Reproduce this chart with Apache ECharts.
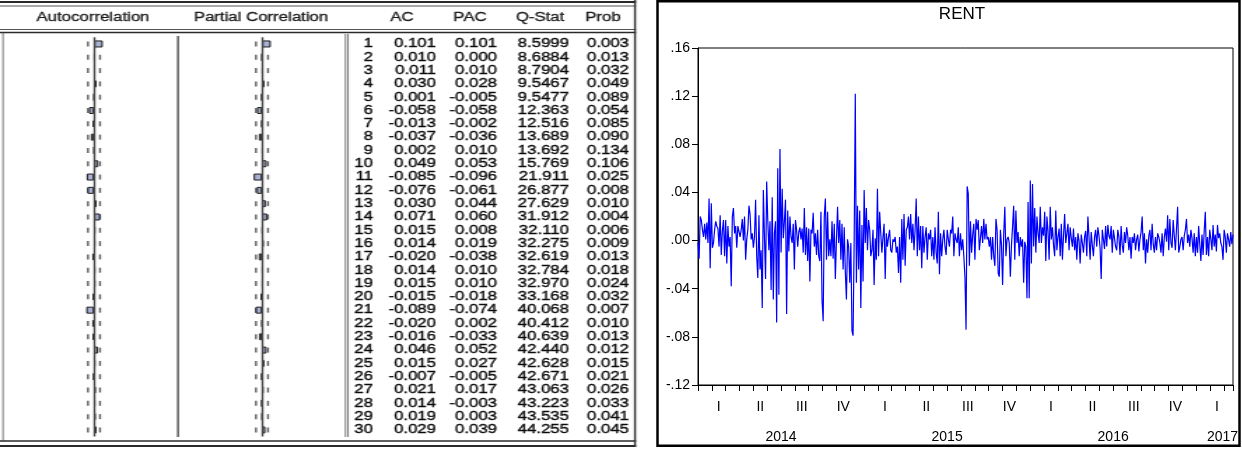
<!DOCTYPE html>
<html>
<head>
<meta charset="utf-8">
<script src="https://cdn.jsdelivr.net/npm/echarts@6/dist/echarts.min.js"></script>
<style>
  html, body { margin: 0; padding: 0; background: #fff; }
  #wrap { position: relative; width: 1242px; height: 450px; overflow: hidden; background: #fff; }
  /* the correlogram table is drawn narrow and widened, like the EViews output */
  #corr { position: absolute; left: 0; top: 0; width: 461px; height: 450px;
          transform: scaleX(1.4); transform-origin: 0 0; }
  #rent { position: absolute; left: 645px; top: 0; width: 597px; height: 450px; }
</style>
</head>
<body>
<div id="wrap">
  <div id="corr"></div>
  <div id="rent"></div>
</div>
<script>
// ---------- Correlogram of RENT ----------
const lags = ['1','2','3','4','5','6','7','8','9','10','11','12','13','14','15',
              '16','17','18','19','20','21','22','23','24','25','26','27','28','29','30'];
const ac = [0.101, 0.010, 0.011, 0.030, 0.001, -0.058, -0.013, -0.037, 0.002, 0.049,
            -0.085, -0.076, 0.030, 0.071, 0.015, 0.014, -0.020, 0.014, 0.015, -0.015,
            -0.089, -0.020, -0.016, 0.046, 0.015, -0.007, 0.021, 0.014, 0.019, 0.029];
const pac = [0.101, 0.000, 0.010, 0.028, -0.005, -0.058, -0.002, -0.036, 0.010, 0.053,
             -0.096, -0.061, 0.044, 0.060, 0.008, 0.019, -0.038, 0.010, 0.010, -0.018,
             -0.074, 0.002, -0.033, 0.052, 0.027, -0.005, 0.017, -0.003, 0.003, 0.039];
const qStat = [8.5999, 8.6884, 8.7904, 9.5467, 9.5477, 12.363, 12.516, 13.689, 13.692, 15.769,
               21.911, 26.877, 27.629, 31.912, 32.110, 32.275, 32.619, 32.784, 32.970, 33.168,
               40.068, 40.412, 40.639, 42.440, 42.628, 42.671, 43.063, 43.223, 43.535, 44.255];
const prob = [0.003, 0.013, 0.032, 0.049, 0.089, 0.054, 0.085, 0.090, 0.134, 0.106,
              0.025, 0.008, 0.010, 0.004, 0.006, 0.009, 0.013, 0.018, 0.024, 0.032,
              0.007, 0.010, 0.013, 0.012, 0.015, 0.021, 0.026, 0.033, 0.041, 0.045];
const corrBand = 0.069;   // approx. 2/sqrt(T) significance band
const tableHeads = ['Autocorrelation', 'Partial Correlation', 'AC', 'PAC', 'Q-Stat', 'Prob'];

// ---------- RENT daily returns, Jan 2014 - Mar 2017 ----------
const rentA = [ // Jan - Oct 2014
  -0.002, -0.015, 0.020, 0.017, 0.009, 0.003, 0.014, 0.001, 0.015, -0.002,
  0.035, -0.023, 0.031, -0.006, -0.002, 0.009, 0.016, 0.012, 0.010, -0.005,
  0.021, -0.012, 0.008, 0.017, -0.013, 0.017, -0.019, 0.012, -0.005, 0.003,
  -0.038, 0.020, 0.027, 0.006, 0.012, -0.006, 0.012, 0.013, 0.003, 0.009,
  0.018, 0.000, 0.020, -0.016, 0.001, 0.009, 0.029, 0.022, 0.001, 0.006,
  -0.006, 0.003, 0.034, -0.013, -0.031, 0.021, -0.024, -0.008, -0.056, 0.042,
  0.003, -0.032, 0.049, 0.017, -0.008, 0.016, -0.041, 0.036, -0.049, 0.006,
  0.016, -0.068, 0.060, -0.045, 0.076, -0.010, 0.043, 0.002, 0.016, 0.034,
  -0.061, 0.025, -0.009, 0.020, 0.003, -0.002, 0.014, -0.024, 0.017, 0.009,
  -0.005, 0.007, 0.011, 0.001, 0.010, -0.010, 0.027, -0.012, 0.011, -0.017,
  0.010, -0.034, 0.009, 0.006, 0.023, -0.005, 0.006, -0.012, 0.009, -0.013,
  -0.017, 0.024, -0.050, -0.067, 0.020, 0.035, -0.016, 0.024, -0.013, 0.001
];
const rentB = [ // Oct 2014 - Aug 2015
  -0.013, 0.016, -0.015, 0.014, -0.032, 0.001, 0.028, -0.002, 0.017, -0.016,
  0.014, -0.024, 0.011, -0.026, -0.049, 0.001, -0.005, -0.035, -0.002, -0.075,
  -0.079, 0.001, 0.122, -0.035, 0.029, -0.024, 0.025, -0.056, 0.013, -0.034,
  0.042, -0.002, 0.027, -0.008, 0.017, 0.009, -0.013, -0.008, 0.009, -0.037,
  0.002, -0.016, 0.043, -0.013, 0.024, 0.006, -0.010, 0.003, 0.014, -0.032,
  0.006, -0.005, 0.003, 0.009, -0.008, -0.010, 0.001, -0.001, 0.003, -0.010,
  -0.005, -0.027, 0.003, -0.035, 0.018, -0.016, 0.022, -0.021, 0.009, 0.011,
  0.020, 0.001, 0.022, -0.002, 0.014, -0.008, 0.009, 0.035, -0.013, 0.020,
  -0.008, 0.012, -0.023, 0.012, -0.010, 0.003, 0.011, -0.016, 0.006, 0.001,
  0.009, -0.013, 0.003, -0.016, 0.011, -0.010, -0.019, 0.024, -0.028, 0.006,
  -0.013, 0.001, 0.009, -0.005, -0.012, 0.009, 0.001, -0.005, 0.009, 0.006,
  0.020, -0.013, 0.006, 0.001, -0.002, 0.011, -0.013, 0.006, -0.008, 0.001,
  -0.013, -0.030, -0.074, 0.045, 0.039
];
const rentC = [ // Aug 2015 - Jun 2016
  -0.021, 0.016, -0.010, 0.005, 0.014, -0.016, 0.018, 0.009, 0.017, -0.008,
  -0.009, 0.012, -0.002, 0.018, 0.001, 0.014, 0.001, 0.003, -0.005, 0.003,
  -0.016, 0.003, -0.013, -0.021, 0.018, 0.009, -0.027, -0.030, 0.009, -0.004,
  -0.037, 0.005, 0.028, -0.013, 0.001, 0.003, -0.002, -0.030, -0.004, 0.012,
  0.029, -0.016, 0.025, -0.002, 0.007, -0.013, 0.003, -0.005, 0.001, -0.035,
  -0.001, -0.005, -0.048, 0.032, -0.048, 0.050, -0.019, 0.047,
  -0.005, 0.027, -0.010, 0.020, 0.006, -0.002, 0.028, -0.002, 0.011, 0.004,
  0.024, -0.017, 0.020, 0.008, -0.016, 0.028, 0.001, 0.011, -0.004, -0.013,
  0.025, -0.008, 0.003, 0.010, -0.013, 0.014, -0.016, 0.004, 0.022, -0.002,
  0.006, 0.014, -0.008, 0.011, 0.002, -0.005, 0.010, -0.008, 0.003, -0.016,
  0.006, 0.000, -0.019, 0.005, -0.002, -0.010, 0.003, 0.008, -0.013, 0.020,
  0.003, -0.016, 0.007, -0.004, -0.013, 0.003, 0.009, -0.005, 0.011, 0.004,
  -0.006, -0.032, 0.009, 0.001, -0.007
];
const rentD = [ // Jun 2016 - Mar 2017
  0.012, -0.005, 0.013, 0.004, 0.001, 0.012, -0.010, 0.009, 0.002, -0.005,
  -0.008, 0.009, 0.003, -0.012, 0.012, -0.004, -0.010, 0.007, -0.002, 0.011,
  0.004, -0.008, 0.003, -0.015, 0.003, -0.002, 0.006, -0.008, 0.001, 0.005,
  -0.009, 0.001, 0.007, 0.020, -0.008, 0.006, -0.019, 0.001, -0.010, 0.004,
  0.009, -0.008, 0.014, -0.003, -0.010, 0.003, -0.008, 0.006, 0.003, -0.002,
  -0.010, 0.006, -0.013, 0.003, 0.010, -0.001, 0.021, -0.008, 0.018, -0.002,
  -0.006, 0.017, 0.004, -0.008, 0.010, 0.028, -0.010, -0.005, 0.001, 0.003,
  -0.008, 0.004, 0.009, 0.018, -0.002, 0.005, -0.005, 0.009, 0.002, -0.010,
  0.006, -0.013, 0.003, -0.010, 0.012, -0.003, -0.017, 0.005, -0.012, 0.008,
  0.024, -0.012, 0.003, -0.013, 0.009, 0.001, -0.008, 0.013, -0.005, 0.005,
  -0.009, 0.013, 0.002, 0.006, -0.002, -0.005, -0.016, 0.009, 0.003, -0.010,
  0.006, 0.001, -0.005, 0.007, -0.003, 0.005
];
const quarterLabels = ['I', 'II', 'III', 'IV', 'I', 'II', 'III', 'IV', 'I', 'II', 'III', 'IV', 'I'];
const yearLabels = ['2014', '2015', '2016', '2017'];
const yTicks = { min: -0.12, max: 0.16, step: 0.04 };

// ---------- layout ----------
const FONT = '"Liberation Sans", Arial, sans-serif';
const WIDEN = 1.4;                              // horizontal stretch of the table panel
const px = v => v / WIDEN;                      // page x -> table-panel x
const rowTop = 37.3, rowSpan = 399.3;           // 30 table rows
const monthsShown = 38.66;                      // Jan 2014 .. ~20 Mar 2017, in months
const quarterMid = quarterLabels.map((_, i) => 1.5 + 3 * i);
const yearMid = [6, 18, 30, 37.9];
const tableText = { color: '#0a0a0a', fontSize: 12, fontFamily: FONT,
                    textBorderColor: '#0a0a0a', textBorderWidth: 0.35 };

// ===== left panel: correlogram table =====
const corr = echarts.init(document.getElementById('corr'));
const tableLeft = px(629);

function tableAxis(rightEdge, text) {
  return {
    gridIndex: 2, type: 'category', data: lags, inverse: true, position: 'left',
    offset: tableLeft - px(rightEdge),
    axisLine: { show: false }, axisTick: { show: false }, splitLine: { show: false },
    axisLabel: Object.assign({ interval: 0, margin: 0, formatter: (v, i) => text(i) }, tableText)
  };
}
function bandMarks(xi, yi) {
  const pts = [];
  lags.forEach((_, i) => { pts.push([-corrBand, i]); pts.push([corrBand, i]); });
  return { type: 'scatter', xAxisIndex: xi, yAxisIndex: yi, data: pts, symbol: 'rect',
           symbolSize: [px(2), 5], itemStyle: { color: '#3a3a3a' }, silent: true, z: 3 };
}
function corrBars(values, xi, yi) {
  return {
    type: 'bar', xAxisIndex: xi, yAxisIndex: yi, data: values, barWidth: 7, z: 4,
    itemStyle: { color: '#a9b2d6', borderColor: '#1c1c1c', borderWidth: 1 },
    markLine: { silent: true, symbol: ['none', 'none'], label: { show: false },
                lineStyle: { color: '#4a4a4a', width: px(2), type: 'solid' },
                data: [{ xAxis: 0 }] }
  };
}
function hline(y, x1, x2, w, c) {
  return { type: 'line', silent: true, shape: { x1: px(x1), y1: y, x2: px(x2), y2: y }, style: { stroke: c, lineWidth: w } };
}
function vline(x, y1, y2, w, c) {
  return { type: 'line', silent: true, shape: { x1: px(x), y1: y1, x2: px(x), y2: y2 }, style: { stroke: c, lineWidth: px(w) } };
}
function head(text, x) {
  return { type: 'text', x: px(x), y: 18, silent: true,
           style: { text: text, fill: '#1a1a1a', fontSize: 12, fontFamily: FONT,
                    stroke: '#1a1a1a', lineWidth: 0.3,
                    align: 'center', verticalAlign: 'middle', textAlign: 'center', textVerticalAlign: 'middle' } };
}
// zero lines of the two bar panels sit at page x 94 and 262, 87 px per unit of correlation
function barGrid(zeroX) {
  return { left: px(zeroX - 87), width: px(174), top: rowTop, height: rowSpan, outerBoundsMode: 'none' };
}

corr.setOption({
  animation: false,
  grid: [
    barGrid(94),
    barGrid(262),
    { left: tableLeft, width: 1, top: rowTop, height: rowSpan, outerBoundsMode: 'none' }
  ],
  xAxis: [
    { gridIndex: 0, type: 'value', min: -1, max: 1, show: false },
    { gridIndex: 1, type: 'value', min: -1, max: 1, show: false },
    { gridIndex: 2, type: 'value', min: 0, max: 1, show: false }
  ],
  yAxis: [
    { gridIndex: 0, type: 'category', data: lags, inverse: true, show: false },
    { gridIndex: 1, type: 'category', data: lags, inverse: true, show: false },
    tableAxis(373, i => lags[i]),
    tableAxis(436, i => ac[i].toFixed(3)),
    tableAxis(497, i => pac[i].toFixed(3)),
    tableAxis(569, i => qStat[i].toPrecision(5)),
    tableAxis(629, i => prob[i].toFixed(3))
  ],
  series: [
    corrBars(ac, 0, 0), bandMarks(0, 0),
    corrBars(pac, 1, 1), bandMarks(1, 1)
  ],
  graphic: [
    hline(2, 0, 636, 2, '#2a2a2a'),
    hline(6, 0, 636, 1, '#555'),
    hline(29.5, 0, 636, 1, '#555'),
    hline(32.5, 0, 636, 1.5, '#2a2a2a'),
    hline(441, 0, 636, 1.5, '#2a2a2a'),
    hline(446, 0, 636, 2, '#2a2a2a'),
    vline(3, 32, 441, 1, '#444'),
    vline(635, 0, 447, 2, '#333'),
    vline(178, 36, 437, 2, '#555'),
    vline(345.5, 34, 437, 1, '#444'),
    vline(348, 34, 437, 1, '#444'),
    head(tableHeads[0], 93), head(tableHeads[1], 261),
    head(tableHeads[2], 402), head(tableHeads[3], 470),
    head(tableHeads[4], 540), head(tableHeads[5], 603)
  ]
});

// ===== right panel: RENT line chart =====
const rentChart = echarts.init(document.getElementById('rent'));
const rent = rentA.concat(rentB, rentC, rentD);

function yLabel(v) {
  const s = Math.abs(v).toFixed(2).replace(/^0/, '');
  return (v < -1e-9 ? '-' : '') + s;
}
const hiddenAxisParts = { axisLine: { show: false }, axisTick: { show: false }, splitLine: { show: false } };

rentChart.setOption({
  animation: false,
  grid: { left: 53, right: 9, top: 48, bottom: 65, show: true, borderColor: '#000', borderWidth: 1,
          backgroundColor: 'transparent', outerBoundsMode: 'none' },
  xAxis: [
    { type: 'category', position: 'bottom', data: rent.map((_, i) => i), boundaryGap: false, show: false },
    { type: 'value', position: 'bottom', min: 0, max: monthsShown, interval: 1,
      axisLine: { show: true, lineStyle: { color: '#000', width: 1 } },
      axisTick: { show: true, inside: false, length: 6, lineStyle: { color: '#000' } },
      axisLabel: { show: false }, splitLine: { show: false } },
    Object.assign({ type: 'value', position: 'bottom', min: 0, max: monthsShown,
      axisLabel: { customValues: quarterMid, margin: 15, fontSize: 14, color: '#000', fontFamily: FONT,
                   formatter: v => quarterLabels[Math.round((v - 1.5) / 3)] } }, hiddenAxisParts),
    Object.assign({ type: 'value', position: 'bottom', min: 0, max: monthsShown,
      axisLabel: { customValues: yearMid, margin: 45, fontSize: 14, color: '#000', fontFamily: FONT,
                   formatter: v => {
                     let k = 0;
                     yearMid.forEach((m, i) => { if (Math.abs(m - v) < Math.abs(yearMid[k] - v)) k = i; });
                     return yearLabels[k];
                   } } }, hiddenAxisParts)
  ],
  yAxis: {
    type: 'value', min: yTicks.min, max: yTicks.max, interval: yTicks.step,
    axisLine: { show: true, lineStyle: { color: '#000', width: 1 } },
    axisTick: { show: true, inside: false, length: 6, lineStyle: { color: '#000' } },
    splitLine: { show: false },
    axisLabel: { margin: 8, fontSize: 14, color: '#000', fontFamily: FONT, formatter: yLabel }
  },
  series: [{
    type: 'line', xAxisIndex: 0, data: rent, symbol: 'none', showSymbol: false,
    lineStyle: { color: '#0000ff', width: 1.2 }, silent: true
  }],
  graphic: [
    { type: 'rect', silent: true, shape: { x: 12.5, y: 1.25, width: 582, height: 444.5 },
      style: { fill: 'none', stroke: '#000', lineWidth: 2.5 } },
    { type: 'text', x: 317, y: 14, silent: true,
      style: { text: 'RENT', fill: '#000', fontSize: 17, fontFamily: FONT,
               align: 'center', verticalAlign: 'middle', textAlign: 'center', textVerticalAlign: 'middle' } }
  ]
});
</script>
</body>
</html>
